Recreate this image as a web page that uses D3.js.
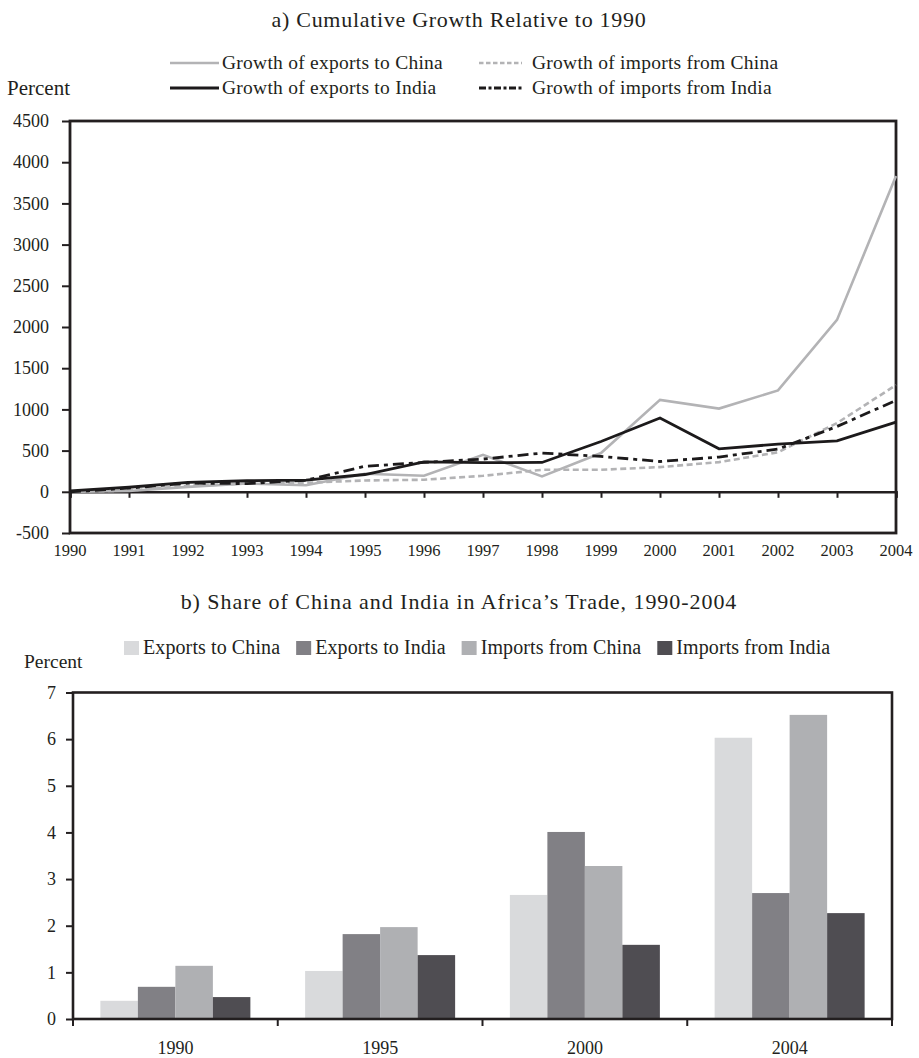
<!DOCTYPE html>
<html>
<head>
<meta charset="utf-8">
<script src="https://cdn.jsdelivr.net/npm/d3@7"></script>
<style>
  html, body { margin: 0; padding: 0; background: #fff; }
  svg { display: block; }
  text { font-family: "Liberation Serif", "Times New Roman", serif; fill: #231f20; }
</style>
</head>
<body>
<svg id="chart" width="919" height="1058"></svg>
<script>
// ---- Panel a: cumulative growth relative to 1990 (percent) ----
const years = [1990, 1991, 1992, 1993, 1994, 1995, 1996, 1997, 1998, 1999, 2000, 2001, 2002, 2003, 2004];
const exportsToChina   = [0, 10, 60, 100, 80, 219, 194, 449, 186, 470, 1116, 1010, 1230, 2086, 3833];
const exportsToIndia   = [10, 55, 115, 134, 142, 210, 362, 354, 356, 611, 895, 522, 578, 619, 846];
const importsFromChina = [0, 15, 73, 100, 110, 138, 146, 194, 267, 267, 300, 360, 480, 834, 1295];
const importsFromIndia = [0, 45, 105, 100, 140, 310, 356, 397, 470, 429, 368, 422, 518, 793, 1109];
const growthTicks = [-500, 0, 500, 1000, 1500, 2000, 2500, 3000, 3500, 4000, 4500];

// ---- Panel b: share of China and India in Africa's trade (percent) ----
const shareYears = ["1990", "1995", "2000", "2004"];
const shareExportsChina = [0.39, 1.03, 2.66, 6.03];
const shareExportsIndia = [0.69, 1.82, 4.01, 2.70];
const shareImportsChina = [1.14, 1.97, 3.28, 6.52];
const shareImportsIndia = [0.47, 1.37, 1.59, 2.27];
const shareTicks = [0, 1, 2, 3, 4, 5, 6, 7];

const ink = "#231f20";
const svg = d3.select("#chart");
const plainNumber = d => String(d);   // keeps an ASCII hyphen for negatives

// ================= Panel a =================
const lineSeries = [
  { name: "Growth of exports to China",   values: exportsToChina,   color: "#b3b3b5", width: 2.6, dash: null,       legendDash: null },
  { name: "Growth of imports from China", values: importsFromChina, color: "#b3b3b5", width: 2.6, dash: "6,3.5",    legendDash: "4.5,2.5" },
  { name: "Growth of exports to India",   values: exportsToIndia,   color: "#1c1a1b", width: 2.8, dash: null,       legendDash: null },
  { name: "Growth of imports from India", values: importsFromIndia, color: "#1c1a1b", width: 2.8, dash: "11,5,4,5", legendDash: "7,2.5,3,2.5" }
];

const a = { left: 70, right: 896, top: 121, bottom: 533 };
const xA = d3.scaleLinear().domain([1990, 2004]).range([a.left, a.right]);
const yA = d3.scaleLinear().domain([-500, 4500]).range([a.bottom, a.top]);

svg.append("text").attr("x", 459).attr("y", 27).attr("text-anchor", "middle")
  .style("font-size", "22px").style("letter-spacing", "0.7px")
  .text("a) Cumulative Growth Relative to 1990");

svg.append("text").attr("x", 7).attr("y", 95)
  .style("font-size", "21px").text("Percent");

// legend (two columns, two rows)
const legendA = svg.append("g");
const legCols = [170, 479];
const legRows = [63, 88];
lineSeries.forEach((s, i) => {
  const cx = legCols[i % 2], cy = legRows[Math.floor(i / 2)];
  const g = legendA.append("g");
  g.append("line").attr("x1", cx).attr("x2", cx + (i % 2 ? 43 : 49)).attr("y1", cy).attr("y2", cy)
    .attr("stroke", s.color).attr("stroke-width", s.width)
    .attr("stroke-dasharray", s.legendDash);
  g.append("text").attr("x", cx + (i % 2 ? 53 : 52)).attr("y", cy + 6)
    .style("font-size", "19.5px").style("letter-spacing", "0.25px").text(s.name);
});

// y axis with labels
const yAxisA = d3.axisLeft(yA).tickValues(growthTicks).tickSize(8).tickPadding(13).tickFormat(plainNumber);
const gyA = svg.append("g").attr("transform", `translate(${a.left},0)`).call(yAxisA);
gyA.select(".domain").remove();
gyA.selectAll(".tick line").attr("stroke", ink).attr("stroke-width", 2);
gyA.selectAll(".tick text").style("font-size", "18px").style("font-family", "Liberation Serif").attr("fill", ink);

// x axis ticks along the zero line, labels below the frame
const xAxisA = d3.axisBottom(xA).tickValues(years).tickSize(6).tickFormat("");
const gxA = svg.append("g").attr("transform", `translate(0,${yA(0)})`).call(xAxisA);
gxA.select(".domain").attr("stroke", ink).attr("stroke-width", 2.6);
gxA.selectAll(".tick line").attr("stroke", ink).attr("stroke-width", 2);

svg.append("g").selectAll("text").data(years).join("text")
  .attr("x", d => xA(d)).attr("y", 556).attr("text-anchor", "middle")
  .style("font-size", "16.5px").text(d => d);

// frame
svg.append("rect").attr("x", a.left).attr("y", a.top)
  .attr("width", a.right - a.left).attr("height", a.bottom - a.top)
  .attr("fill", "none").attr("stroke", ink).attr("stroke-width", 2.8);

// series lines
const lineGen = d3.line().x((d, i) => xA(years[i])).y(d => yA(d));
const drawOrder = [lineSeries[1], lineSeries[0], lineSeries[3], lineSeries[2]];
svg.append("g").selectAll("path").data(drawOrder).join("path")
  .attr("d", s => lineGen(s.values))
  .attr("fill", "none").attr("stroke", s => s.color).attr("stroke-width", s => s.width)
  .attr("stroke-dasharray", s => s.dash).attr("stroke-linejoin", "miter");

// ================= Panel b =================
const barSeries = [
  { name: "Exports to China",   values: shareExportsChina, color: "#d9dadc" },
  { name: "Exports to India",   values: shareExportsIndia, color: "#818085" },
  { name: "Imports from China", values: shareImportsChina, color: "#afb0b3" },
  { name: "Imports from India", values: shareImportsIndia, color: "#4f4d52" }
];

const b = { left: 73, right: 892, top: 692.5, bottom: 1019 };
const xB = d3.scaleBand().domain(shareYears).range([b.left, b.right]).paddingInner(0).paddingOuter(0);
const xB1 = d3.scaleBand().domain(barSeries.map(s => s.name)).range([0, xB.bandwidth()])
  .paddingInner(0).paddingOuter(0.73);
const yB = d3.scaleLinear().domain([0, 7]).range([b.bottom, b.top]);

svg.append("text").attr("x", 459).attr("y", 609).attr("text-anchor", "middle")
  .style("font-size", "22px").style("letter-spacing", "0.95px")
  .text("b) Share of China and India in Africa\u2019s Trade, 1990-2004");

svg.append("text").attr("x", 24).attr("y", 668)
  .style("font-size", "19.5px").text("Percent");

// legend with swatches
const legendB = svg.append("g");
let lx = 124;
barSeries.forEach(s => {
  legendB.append("rect").attr("x", lx).attr("y", 641).attr("width", 15).attr("height", 14).attr("fill", s.color);
  const t = legendB.append("text").attr("x", lx + 19).attr("y", 654)
    .style("font-size", "20px").style("letter-spacing", "0.1px").text(s.name);
  lx += 19 + t.node().getComputedTextLength() + 16;
});

// bars
const groups = svg.append("g").selectAll("g").data(shareYears).join("g")
  .attr("transform", d => `translate(${xB(d)},0)`);
groups.selectAll("rect")
  .data((yr, gi) => barSeries.map(s => ({ name: s.name, color: s.color, value: s.values[gi] })))
  .join("rect")
  .attr("x", d => xB1(d.name)).attr("width", xB1.bandwidth())
  .attr("y", d => yB(d.value)).attr("height", d => yB(0) - yB(d.value))
  .attr("fill", d => d.color);

// y axis
const yAxisB = d3.axisLeft(yB).tickValues(shareTicks).tickSize(7).tickPadding(10).tickFormat(plainNumber);
const gyB = svg.append("g").attr("transform", `translate(${b.left},0)`).call(yAxisB);
gyB.select(".domain").remove();
gyB.selectAll(".tick line").attr("stroke", ink).attr("stroke-width", 2);
gyB.selectAll(".tick text").style("font-size", "18px").style("font-family", "Liberation Serif").attr("fill", ink);

// category ticks at band edges
const edges = shareYears.map(d => xB(d)).concat([b.right]);
svg.append("g").selectAll("line").data(edges).join("line")
  .attr("x1", d => d).attr("x2", d => d).attr("y1", b.bottom).attr("y2", b.bottom + 7)
  .attr("stroke", ink).attr("stroke-width", 2);

svg.append("g").selectAll("text").data(shareYears).join("text")
  .attr("x", d => xB(d) + xB.bandwidth() / 2).attr("y", 1054).attr("text-anchor", "middle")
  .style("font-size", "18px").text(d => d);

// frame (top, left, right) and baseline
svg.append("rect").attr("x", b.left).attr("y", b.top)
  .attr("width", b.right - b.left).attr("height", b.bottom - b.top)
  .attr("fill", "none").attr("stroke", ink).attr("stroke-width", 2.6);
</script>
</body>
</html>
